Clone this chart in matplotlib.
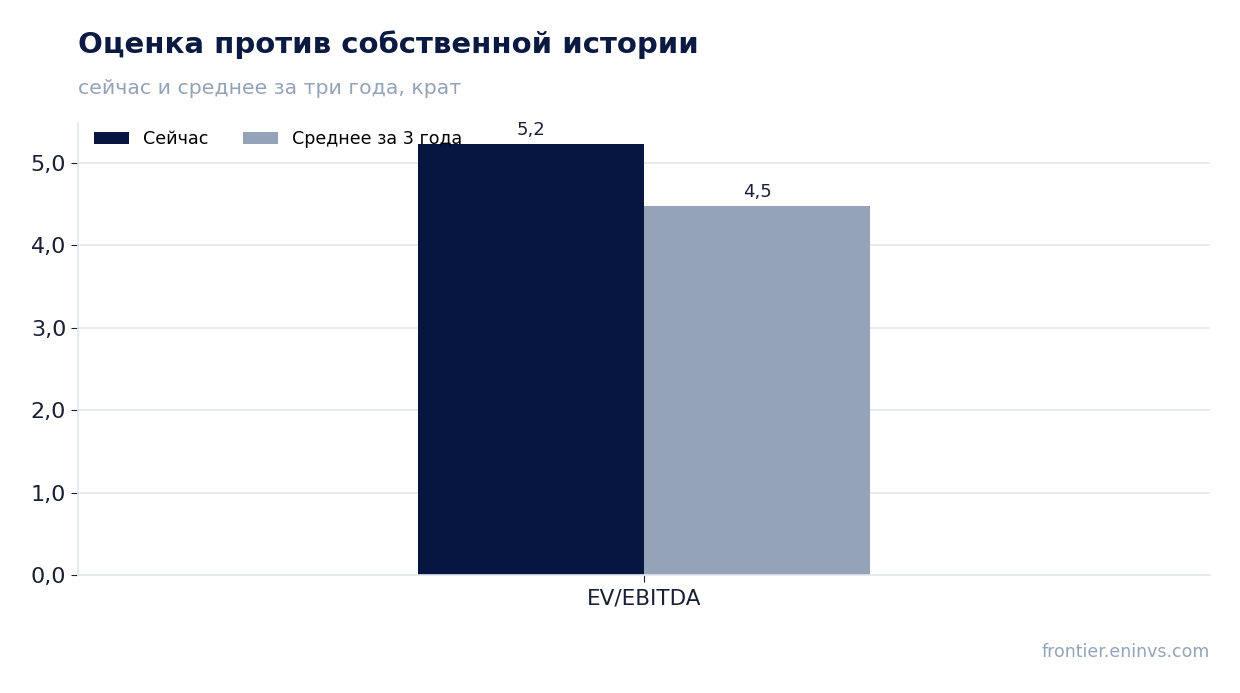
import matplotlib
matplotlib.use("Agg")
import matplotlib.pyplot as plt
import numpy as np

categories = ["EV/EBITDA"]
series_names = ["Сейчас", "Среднее за 3 года"]
now_values = [5.22]
avg_values = [4.47]
yticks = [0, 1, 2, 3, 4, 5]

c_now = "#061641"
c_avg = "#94a3b8"
c_text = "#1a1f36"

fig = plt.figure(figsize=(12.4, 6.93), dpi=100)
ax = fig.add_axes([0.0629, 0.1703, 0.9129, 0.6522])

x = np.arange(len(categories))
w = 0.2
b1 = ax.bar(x - w / 2, now_values, w, color=c_now, label=series_names[0])
b2 = ax.bar(x + w / 2, avg_values, w, color=c_avg, label=series_names[1])

for bars in (b1, b2):
    for r in bars:
        v = r.get_height()
        ax.annotate(f"{v:.1f}".replace(".", ","), (r.get_x() + r.get_width() / 2, v),
                    xytext=(0, 4), textcoords="offset points", ha="center", va="bottom",
                    fontsize=13, color=c_text)

ax.set_xlim(-0.5, 0.5)
ax.set_ylim(0, 5.48)
ax.set_xticks(x)
ax.set_xticklabels(categories, fontsize=15.5, color=c_text)
ax.set_yticks(yticks)
ax.set_yticklabels([f"{t:.1f}".replace(".", ",") for t in yticks], fontsize=16, color=c_text)
ax.yaxis.grid(True, color="#e3e7ee", linewidth=1.2)
ax.set_axisbelow(True)
for s in ("top", "right"):
    ax.spines[s].set_visible(False)
for s in ("left", "bottom"):
    ax.spines[s].set_color("#e3e7ee")
    ax.spines[s].set_linewidth(1.2)
ax.tick_params(axis="both", colors=c_text, length=5)
ax.tick_params(axis="x", pad=5)

ax.legend(loc="upper left", frameon=False, fontsize=12.6, ncol=2, handlelength=2.0,
          handleheight=0.68, handletextpad=0.8, columnspacing=2.0,
          borderaxespad=0.0, bbox_to_anchor=(0.008, 0.999))

fig.text(0.0629, 0.936, "Оценка против собственной истории", fontsize=21, fontweight="bold",
         color="#0a1a40", ha="left", va="center")
fig.text(0.0629, 0.873, "сейчас и среднее за три года, крат", fontsize=14.7,
         color=c_avg, ha="left", va="center")
fig.text(0.9758, 0.059, "frontier.eninvs.com", fontsize=12.5, color=c_avg,
         ha="right", va="center")

fig.savefig("out.png", dpi=100)
